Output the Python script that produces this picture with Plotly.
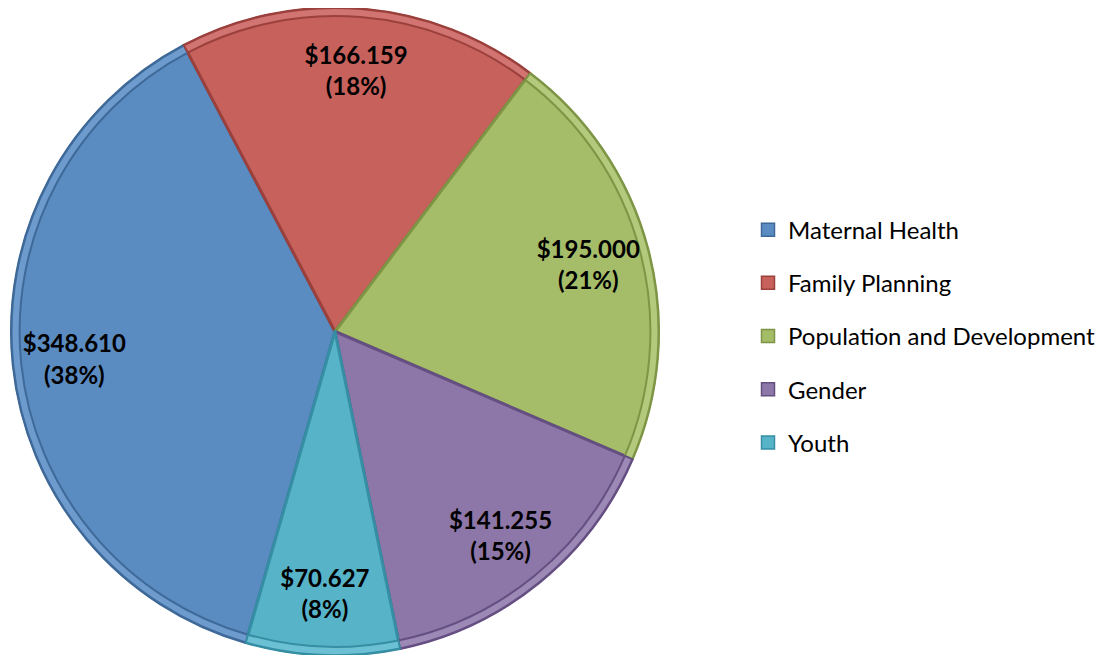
import plotly.graph_objects as go

categories = ["Maternal Health", "Family Planning", "Population and Development", "Gender", "Youth"]
values = [348610, 166159, 195000, 141255, 70627]
value_labels = ["$348.610", "$166.159", "$195.000", "$141.255", "$70.627"]
pct_labels = ["38%", "18%", "21%", "15%", "8%"]

fill_colors = ["#5a8bc1", "#c7615c", "#a5bd69", "#8d77a8", "#56b3c8"]
rim_colors = ["#6d9bcd", "#d27471", "#b3ca7c", "#9d89b6", "#6cc0d3"]
edge_colors = ["#3e6998", "#9b403c", "#7d9545", "#654f82", "#358ea3"]

texts = [f"<b>{v}<br>({p})</b>" for v, p in zip(value_labels, pct_labels)]

# the page body adds an 8px margin, so the figure is sized to fit the window
W, H = 1104, 647
dom_x = [2 / W, 652 / W]
dom_y = [0.0, 1.0]

fig = go.Figure()

common = dict(labels=categories, values=values, sort=False, direction="clockwise",
              rotation=196, domain=dict(x=dom_x, y=dom_y), showlegend=False)

# main pie
fig.add_trace(go.Pie(
    **common,
    marker=dict(colors=fill_colors, line=dict(color=edge_colors, width=3)),
    textinfo="none", hoverinfo="label+value+percent",
))

# thin lighter rim to suggest the bevel
fig.add_trace(go.Pie(
    **common, hole=0.975,
    marker=dict(colors=rim_colors, line=dict(color=edge_colors, width=2)),
    textinfo="none", hoverinfo="skip",
))

# transparent ring pie that carries the labels near the outer edge
fig.add_trace(go.Pie(
    **common, hole=0.62,
    marker=dict(colors=["rgba(0,0,0,0)"] * 5, line=dict(width=0)),
    text=texts, textinfo="text", textposition="inside",
    insidetextorientation="horizontal",
    insidetextfont=dict(family="Lato", size=24, color="black"),
    hoverinfo="skip",
))

# legend entries
for i, (name, fc, ec) in enumerate(zip(categories, fill_colors, edge_colors)):
    fig.add_trace(go.Scatter(
        x=[None], y=[None], mode="markers", name=name, legendgroup=f"g{i}",
        marker=dict(symbol="square", size=13, color=fc, line=dict(color=ec, width=1.5)),
    ))

fig.update_layout(
    width=W, height=H, margin=dict(l=0, r=0, t=0, b=0),
    paper_bgcolor="white", plot_bgcolor="white",
    xaxis=dict(visible=False), yaxis=dict(visible=False),
    uniformtext=dict(minsize=24, mode="show"),
    legend=dict(
        x=740 / W, xanchor="left", y=0.493, yanchor="middle",
        font=dict(family="Lato", size=24, color="black"),
        tracegroupgap=19, traceorder="grouped", itemclick=False,
    ),
)

fig.write_html("out.html")
